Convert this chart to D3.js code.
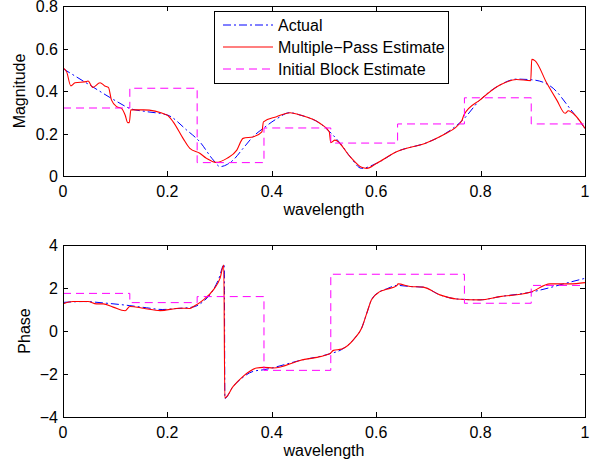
<!DOCTYPE html>
<html>
<head>
<meta charset="utf-8">
<script src="https://cdn.jsdelivr.net/npm/d3@7"></script>
<style>
  body { margin: 0; background: #fff; }
  svg { display: block; font-family: "Liberation Sans", Arial, Helvetica, sans-serif; }
</style>
</head>
<body>
<div id="chart"></div>
<script>
// ---- data ----
var xTicks = [0, 0.2, 0.4, 0.6, 0.8, 1];
var magTicks = [0, 0.2, 0.4, 0.6, 0.8];
var phaseTicks = [-4, -2, 0, 2, 4];
var legendNames = ["Actual", "Multiple\u2212Pass Estimate", "Initial Block Estimate"];

var magActualX = [0, 0.05, 0.1, 0.128, 0.16, 0.2, 0.237, 0.262, 0.288, 0.301, 0.315, 0.326, 0.345, 0.364, 0.384, 0.41, 0.434, 0.454, 0.492, 0.511, 0.531, 0.55, 0.572, 0.601, 0.639, 0.697, 0.728, 0.766, 0.799, 0.837, 0.869, 0.901, 0.939, 0.971, 1.0];
var magActualY = [0.505, 0.43, 0.355, 0.318, 0.303, 0.287, 0.216, 0.161, 0.075, 0.044, 0.055, 0.075, 0.13, 0.185, 0.225, 0.27, 0.298, 0.287, 0.248, 0.208, 0.154, 0.091, 0.036, 0.06, 0.114, 0.157, 0.193, 0.264, 0.358, 0.428, 0.456, 0.452, 0.413, 0.318, 0.224];

var magEstX = [0, 0.007, 0.015, 0.023, 0.045, 0.048, 0.057, 0.071, 0.08, 0.087, 0.093, 0.103, 0.112, 0.119, 0.124, 0.127, 0.13, 0.154, 0.199, 0.211, 0.23, 0.243, 0.262, 0.275, 0.293, 0.314, 0.333, 0.345, 0.365, 0.381, 0.384, 0.409, 0.435, 0.454, 0.492, 0.51, 0.513, 0.521, 0.55, 0.572, 0.582, 0.601, 0.639, 0.697, 0.728, 0.764, 0.768, 0.799, 0.837, 0.869, 0.896, 0.898, 0.904, 0.927, 0.946, 0.962, 0.968, 0.977, 1.0];
var magEstY = [0.51, 0.49, 0.424, 0.439, 0.444, 0.447, 0.417, 0.439, 0.424, 0.417, 0.357, 0.326, 0.318, 0.287, 0.251, 0.251, 0.311, 0.311, 0.287, 0.255, 0.177, 0.13, 0.107, 0.083, 0.064, 0.083, 0.122, 0.177, 0.185, 0.208, 0.255, 0.279, 0.298, 0.287, 0.248, 0.208, 0.157, 0.169, 0.091, 0.041, 0.036, 0.06, 0.114, 0.157, 0.193, 0.26, 0.287, 0.358, 0.428, 0.454, 0.449, 0.549, 0.543, 0.436, 0.357, 0.295, 0.307, 0.295, 0.224];

var phaseActualX = [0, 0.04, 0.08, 0.128, 0.16, 0.19, 0.22, 0.25, 0.27, 0.285, 0.298, 0.309, 0.3101, 0.325, 0.34, 0.364, 0.385, 0.454, 0.511, 0.534, 0.559, 0.572, 0.582, 0.591, 0.607, 0.62, 0.64, 0.665, 0.69, 0.722, 0.754, 0.799, 0.837, 0.895, 0.93, 0.96, 1.0];
var phaseActualY = [1.33, 1.37, 1.3, 1.18, 1.08, 1.0, 1.05, 1.12, 1.4, 1.8, 2.4, 3.1, -3.14, -2.6, -2.25, -1.88, -1.8, -1.37, -1.06, -0.86, -0.33, 0.13, 0.83, 1.45, 1.83, 1.96, 2.12, 2.07, 2.04, 1.68, 1.49, 1.45, 1.6, 1.8, 2.0, 2.2, 2.45];

var phaseEstX = [0, 0.019, 0.048, 0.064, 0.077, 0.096, 0.119, 0.128, 0.154, 0.186, 0.224, 0.243, 0.25, 0.269, 0.288, 0.301, 0.308, 0.31, 0.326, 0.345, 0.371, 0.384, 0.403, 0.454, 0.511, 0.518, 0.534, 0.559, 0.572, 0.582, 0.591, 0.607, 0.62, 0.639, 0.642, 0.665, 0.69, 0.722, 0.754, 0.799, 0.837, 0.895, 0.933, 0.971, 1.0];
var phaseEstY = [1.26, 1.37, 1.37, 1.26, 1.26, 1.11, 0.94, 1.14, 1.06, 0.95, 1.06, 1.05, 1.14, 1.45, 1.91, 2.46, 3.07, -3.11, -2.58, -2.11, -1.72, -1.69, -1.72, -1.37, -1.06, -0.9, -0.84, -0.33, 0.13, 0.83, 1.45, 1.83, 1.94, 2.1, 2.19, 2.07, 2.04, 1.68, 1.49, 1.45, 1.6, 1.8, 2.19, 2.19, 2.25];

var blockEdges = [0, 0.128, 0.257, 0.385, 0.513, 0.641, 0.769, 0.897, 1];
var magBlock = [0.32, 0.413, 0.063, 0.226, 0.155, 0.245, 0.368, 0.245];
var phaseBlock = [1.75, 1.32, 1.6, -1.83, 2.64, 2.64, 1.29, 2.12];

// ---- layout ----
var W = 600, H = 463;
var left = 63, right = 585;
var panels = [
  { top: 6, bottom: 176, domain: [0, 0.8], ticks: magTicks, label: "Magnitude", labelX: 25,
    actual: [magActualX, magActualY], est: [magEstX, magEstY], block: magBlock },
  { top: 245, bottom: 417, domain: [-4, 4], ticks: phaseTicks, label: "Phase", labelX: 30,
    actual: [phaseActualX, phaseActualY], est: [phaseEstX, phaseEstY], block: phaseBlock }
];

var font = 16, tickLen = 5;
var fmt = d3.format("~g");

var svg = d3.select("#chart").append("svg")
  .attr("width", W)
  .attr("height", H);

function zipXY(xs, ys) {
  return xs.map(function(x, i) { return [x, ys[i]]; });
}

panels.forEach(function(p, pi) {
  var x = d3.scaleLinear().domain([0, 1]).range([left, right]);
  var y = d3.scaleLinear().domain(p.domain).range([p.bottom, p.top]);

  var clipId = "clip" + pi;
  svg.append("clipPath").attr("id", clipId)
    .append("rect")
    .attr("x", left).attr("y", p.top)
    .attr("width", right - left).attr("height", p.bottom - p.top);

  var line = d3.line()
    .x(function(d) { return x(d[0]); })
    .y(function(d) { return y(d[1]); })
    .curve(d3.curveMonotoneX);

  var step = d3.line()
    .x(function(d) { return x(d[0]); })
    .y(function(d) { return y(d[1]); })
    .curve(d3.curveStepAfter);

  var blockPts = p.block.map(function(v, i) { return [blockEdges[i], v]; });
  blockPts.push([1, p.block[p.block.length - 1]]);

  var g = svg.append("g").attr("clip-path", "url(#" + clipId + ")");

  g.append("path")
    .attr("d", line(zipXY(p.actual[0], p.actual[1])))
    .attr("fill", "none")
    .attr("stroke", "#0000ff")
    .attr("stroke-width", 1)
    .attr("stroke-dasharray", "8,3,2,3");

  g.append("path")
    .attr("d", line(zipXY(p.est[0], p.est[1])))
    .attr("fill", "none")
    .attr("stroke", "#ff0000")
    .attr("stroke-width", 1.1);

  g.append("path")
    .attr("d", step(blockPts))
    .attr("fill", "none")
    .attr("stroke", "#ff00ff")
    .attr("stroke-width", 1)
    .attr("stroke-dasharray", "8,5");

  // box
  svg.append("rect")
    .attr("x", left + 0.5).attr("y", p.top + 0.5)
    .attr("width", right - left).attr("height", p.bottom - p.top)
    .attr("fill", "none").attr("stroke", "#000").attr("stroke-width", 1);

  // x ticks (inward, top and bottom)
  xTicks.forEach(function(t) {
    var xp = Math.round(x(t)) + 0.5;
    svg.append("line").attr("x1", xp).attr("x2", xp)
      .attr("y1", p.bottom).attr("y2", p.bottom - tickLen).attr("stroke", "#000");
    svg.append("line").attr("x1", xp).attr("x2", xp)
      .attr("y1", p.top).attr("y2", p.top + tickLen).attr("stroke", "#000");
    svg.append("text")
      .attr("x", x(t)).attr("y", p.bottom + 21)
      .attr("text-anchor", "middle")
      .attr("font-size", font)
      .text(fmt(t));
  });

  // y ticks (inward, left and right)
  p.ticks.forEach(function(t) {
    var yp = Math.round(y(t)) + 0.5;
    svg.append("line").attr("x1", left).attr("x2", left + tickLen)
      .attr("y1", yp).attr("y2", yp).attr("stroke", "#000");
    svg.append("line").attr("x1", right).attr("x2", right - tickLen)
      .attr("y1", yp).attr("y2", yp).attr("stroke", "#000");
    svg.append("text")
      .attr("x", left - 5).attr("y", y(t) + 6)
      .attr("text-anchor", "end")
      .attr("font-size", font)
      .text(fmt(t));
  });

  svg.append("text")
    .attr("x", (left + right) / 2).attr("y", p.bottom + 39)
    .attr("text-anchor", "middle")
    .attr("font-size", font)
    .text("wavelength");

  svg.append("text")
    .attr("transform", "translate(" + p.labelX + "," + ((p.top + p.bottom) / 2) + ") rotate(-90)")
    .attr("text-anchor", "middle")
    .attr("font-size", font)
    .text(p.label);
});

// legend
var lg = svg.append("g");
lg.append("rect")
  .attr("x", 214.5).attr("y", 11.5)
  .attr("width", 234).attr("height", 72)
  .attr("fill", "#fff").attr("stroke", "#000");

var legendStyles = [
  { color: "#0000ff", dash: "8,3,2,3", w: 1 },
  { color: "#ff0000", dash: null, w: 1.1 },
  { color: "#ff00ff", dash: "8,5", w: 1 }
];
legendNames.forEach(function(name, i) {
  var yy = 25 + i * 22;
  var s = legendStyles[i];
  lg.append("line")
    .attr("x1", 223).attr("x2", 273)
    .attr("y1", yy).attr("y2", yy)
    .attr("stroke", s.color)
    .attr("stroke-width", s.w)
    .attr("stroke-dasharray", s.dash);
  lg.append("text")
    .attr("x", 278).attr("y", yy + 6)
    .attr("font-size", font)
    .text(name);
});
</script>
</body>
</html>
